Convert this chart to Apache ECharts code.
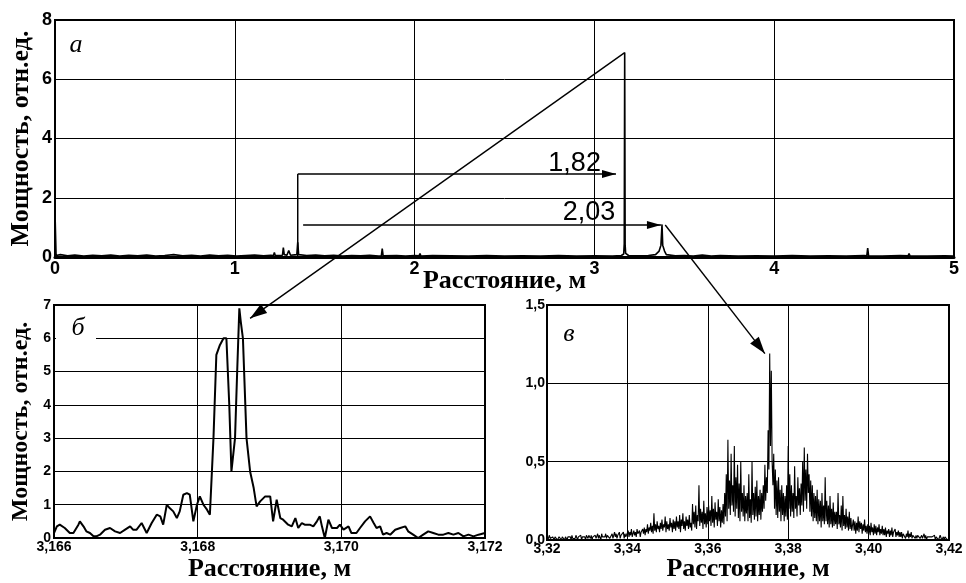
<!DOCTYPE html>
<html><head><meta charset="utf-8">
<script src="https://cdn.jsdelivr.net/npm/echarts@6/dist/echarts.min.js"></script>
<style>html,body{margin:0;padding:0;background:#fff}#c{width:966px;height:583px}</style>
</head><body><div id="c"></div>
<script>
// ---- Panel а: full trace, distance (m) / power
const aX=[0.000,0.006,0.03,0.07,0.11,0.16,0.21,0.26,0.31,0.36,0.41,0.46,0.51,0.56,0.61,0.66,0.71,0.76,0.81,0.86,0.91,0.96,1.01,1.06,1.11,1.16,1.20,1.215,1.22,1.225,1.265,1.27,1.275,1.29,1.30,1.31,1.345,1.35,1.355,1.40,1.45,1.50,1.55,1.60,1.65,1.70,1.75,1.80,1.815,1.82,1.825,1.90,1.95,2.00,2.025,2.03,2.035,2.10,2.20,2.30,2.40,2.50,2.60,2.70,2.80,2.90,3.00,3.10,3.15,3.163,3.166,3.1685,3.171,3.174,3.19,3.25,3.30,3.34,3.36,3.37,3.376,3.38,3.39,3.40,3.45,3.50,3.55,3.60,3.65,3.70,3.80,3.90,4.00,4.10,4.20,4.30,4.40,4.50,4.515,4.52,4.525,4.60,4.70,4.745,4.75,4.755,4.85,4.95,5.00];
const aY=[1.50,0.05,0.08,0.04,0.07,0.03,0.06,0.04,0.07,0.03,0.06,0.04,0.07,0.03,0.05,0.08,0.04,0.06,0.03,0.07,0.04,0.06,0.03,0.05,0.07,0.04,0.06,0.05,0.15,0.05,0.06,0.32,0.08,0.06,0.22,0.06,0.08,0.50,0.08,0.05,0.07,0.04,0.06,0.03,0.05,0.04,0.06,0.03,0.04,0.28,0.04,0.05,0.03,0.05,0.04,0.12,0.03,0.05,0.04,0.03,0.05,0.03,0.04,0.03,0.05,0.03,0.04,0.03,0.05,0.10,0.45,6.90,0.40,0.12,0.05,0.04,0.05,0.08,0.20,0.40,1.10,0.40,0.20,0.08,0.04,0.05,0.03,0.07,0.03,0.05,0.03,0.04,0.03,0.05,0.03,0.04,0.03,0.05,0.04,0.30,0.04,0.03,0.05,0.04,0.12,0.04,0.03,0.04,0.03];

// ---- Panel б: zoom on 3.166–3.172 m
const bX=[3.16600,3.16604,3.16608,3.16615,3.16622,3.16627,3.16634,3.16636,3.16641,3.16645,3.16650,3.16655,3.16659,3.16664,3.16671,3.16678,3.16685,3.16692,3.16699,3.16706,3.16710,3.16715,3.16722,3.16729,3.16736,3.16743,3.16748,3.16752,3.16757,3.16761,3.16766,3.16771,3.16775,3.16780,3.16785,3.16789,3.16794,3.16799,3.16803,3.16808,3.16813,3.16817,3.16822,3.16826,3.16831,3.16836,3.16840,3.16844,3.16847,3.16852,3.16855,3.16858,3.16860,3.16863,3.16868,3.16873,3.16878,3.16882,3.16887,3.16894,3.16901,3.16905,3.16910,3.16915,3.16919,3.16926,3.16931,3.16936,3.16940,3.16945,3.16949,3.16956,3.16961,3.16966,3.16970,3.16973,3.16977,3.16982,3.16987,3.16994,3.16998,3.17003,3.17010,3.17014,3.17021,3.17026,3.17033,3.17040,3.17045,3.17049,3.17054,3.17058,3.17063,3.17068,3.17075,3.17082,3.17089,3.17093,3.17100,3.17107,3.17114,3.17121,3.17128,3.17135,3.17142,3.17149,3.17156,3.17163,3.17170,3.17177,3.17184,3.17191,3.17200];
const bY=[0.15,0.35,0.40,0.30,0.15,0.15,0.40,0.50,0.35,0.20,0.15,0.05,0.05,0.10,0.25,0.30,0.20,0.15,0.25,0.35,0.25,0.25,0.45,0.15,0.45,0.70,0.65,0.40,1.00,0.90,0.80,0.60,0.80,1.30,1.35,1.30,0.50,1.00,1.25,1.00,0.85,0.70,3.00,5.50,5.80,6.00,6.00,4.00,2.00,3.00,5.00,6.90,6.50,6.00,3.00,2.00,1.50,0.95,1.10,1.25,1.25,0.50,1.15,0.60,0.55,0.40,0.35,0.60,0.30,0.45,0.40,0.40,0.35,0.50,0.65,0.35,0.00,0.55,0.30,0.30,0.40,0.25,0.35,0.15,0.15,0.30,0.50,0.65,0.45,0.30,0.35,0.10,0.15,0.10,0.25,0.30,0.35,0.20,0.10,0.00,0.10,0.20,0.15,0.10,0.10,0.15,0.10,0.15,0.05,0.10,0.05,0.10,0.15];

// ---- Panel в: zoom on 3.32–3.42 m, sampled every cStep
const cStart=3.32, cStep=0.0002;
const cY=[
0.02,0.00,0.01,0.03,0.01,0.02,0.00,0.02,0.01,0.00,0.02,0.01,0.03,0.00,0.01,0.02,0.03,0.01,0.00,0.02,
0.01,0.03,0.00,0.02,0.01,0.00,0.02,0.03,0.01,0.02,0.00,0.03,0.01,0.02,0.00,0.01,0.03,0.02,0.00,0.02,
0.02,0.01,0.03,0.00,0.02,0.03,0.01,0.02,0.00,0.03,0.02,0.01,0.03,0.02,0.01,0.03,0.00,0.02,0.01,0.03,
0.03,0.01,0.02,0.04,0.01,0.03,0.02,0.00,0.04,0.02,0.03,0.01,0.02,0.04,0.01,0.03,0.02,0.04,0.01,0.02,
0.02,0.04,0.01,0.03,0.05,0.02,0.04,0.01,0.03,0.02,0.05,0.01,0.03,0.04,0.02,0.05,0.01,0.04,0.02,0.03,
0.03,0.06,0.02,0.05,0.03,0.07,0.02,0.04,0.06,0.03,0.05,0.02,0.07,0.04,0.03,0.06,0.02,0.05,0.04,0.07,
0.04,0.08,0.03,0.07,0.05,0.10,0.04,0.08,0.06,0.11,0.05,0.09,0.04,0.17,0.06,0.10,0.05,0.12,0.07,0.09,
0.05,0.11,0.07,0.13,0.06,0.10,0.08,0.15,0.05,0.12,0.07,0.10,0.06,0.14,0.08,0.11,0.05,0.13,0.07,0.12,
0.06,0.15,0.08,0.12,0.07,0.16,0.05,0.13,0.09,0.17,0.07,0.12,0.06,0.15,0.09,0.13,0.07,0.16,0.08,0.11,
0.06,0.23,0.10,0.18,0.08,0.22,0.07,0.16,0.12,0.35,0.09,0.20,0.11,0.18,0.07,0.25,0.10,0.17,0.08,0.21,
0.10,0.22,0.12,0.19,0.09,0.28,0.11,0.20,0.08,0.24,0.13,0.18,0.09,0.26,0.12,0.21,0.08,0.19,0.11,0.23,
0.10,0.30,0.15,0.42,0.12,0.64,0.20,0.38,0.16,0.55,0.22,0.35,0.18,0.60,0.15,0.40,0.20,0.48,0.14,0.36,
0.12,0.50,0.18,0.30,0.15,0.35,0.12,0.28,0.17,0.30,0.12,0.42,0.14,0.26,0.11,0.50,0.16,0.30,0.13,0.34,
0.15,0.38,0.12,0.28,0.16,0.32,0.13,0.30,0.18,0.35,0.20,0.48,0.25,0.40,0.30,0.70,0.45,1.19,0.60,1.08,
0.50,0.35,0.55,0.20,0.45,0.16,0.38,0.14,0.40,0.18,0.32,0.12,0.35,0.16,0.30,0.12,0.28,0.15,0.35,0.13,
0.60,0.20,0.42,0.15,0.35,0.18,0.30,0.14,0.47,0.20,0.28,0.15,0.40,0.22,0.33,0.16,0.36,0.22,0.50,0.18,
0.59,0.25,0.45,0.20,0.55,0.30,0.42,0.18,0.38,0.15,0.35,0.12,0.30,0.14,0.28,0.12,0.32,0.10,0.26,0.12,
0.25,0.08,0.30,0.12,0.22,0.10,0.40,0.12,0.25,0.10,0.22,0.08,0.28,0.10,0.20,0.08,0.24,0.09,0.18,0.10,
0.18,0.07,0.30,0.10,0.16,0.08,0.22,0.06,0.28,0.09,0.16,0.07,0.20,0.08,0.15,0.06,0.18,0.07,0.14,0.06,
0.05,0.13,0.06,0.12,0.04,0.11,0.06,0.15,0.05,0.12,0.07,0.11,0.04,0.10,0.06,0.13,0.05,0.09,0.04,0.10,
0.04,0.09,0.03,0.11,0.05,0.08,0.03,0.10,0.04,0.09,0.03,0.08,0.05,0.10,0.03,0.07,0.04,0.09,0.03,0.07,
0.03,0.08,0.02,0.06,0.04,0.07,0.02,0.06,0.03,0.08,0.02,0.05,0.04,0.07,0.02,0.05,0.03,0.06,0.02,0.05,
0.02,0.05,0.01,0.04,0.03,0.05,0.01,0.04,0.02,0.06,0.01,0.04,0.02,0.05,0.01,0.03,0.02,0.04,0.01,0.03,
0.01,0.03,0.02,0.04,0.01,0.02,0.03,0.01,0.02,0.04,0.01,0.03,0.00,0.02,0.03,0.01,0.02,0.03,0.01,0.02,
0.02,0.01,0.03,0.00,0.02,0.01,0.02,0.00,0.01,0.03,0.02,0.00,0.01,0.02,0.00,0.02,0.01,0.03,0.00,0.01,0.01];

// annotation values (distances, m)
const dist1='1,82', dist2='2,03';
const yName='Мощность, отн.ед.', xName='Расстояние, м';

const comma=(d)=>v=>Number(v).toFixed(d).replace('.',',');
const serif='Liberation Serif', sans='Liberation Sans';
const grid=(l,t,w,h)=>({left:l,top:t,width:w,height:h,show:true,borderColor:'#000',borderWidth:2,backgroundColor:'#fff'});
const split={show:true,lineStyle:{color:'#000',width:1}};

function xAx(gi,min,max,iv,dec,fs,margin,gap,lw){
  return {type:'value',gridIndex:gi,min,max,interval:iv,splitLine:split,axisLine:{show:true,lineStyle:{color:'#000',width:lw}},axisTick:{show:false},
    axisLabel:{formatter:comma(dec),color:'#000',fontWeight:'bold',fontFamily:sans,fontSize:fs,margin,showMinLabel:true,showMaxLabel:true},
    name:xName,nameLocation:'middle',nameGap:gap,nameMoveOverlap:false,nameTextStyle:{fontFamily:serif,fontWeight:'bold',fontSize:26,color:'#000'}};
}
function yAx(gi,min,max,iv,dec,fs,margin,gap,nfs,nm){
  return {type:'value',gridIndex:gi,min,max,interval:iv,splitLine:split,axisLine:{show:true,lineStyle:{color:'#000',width:2}},axisTick:{show:false},
    axisLabel:{formatter:comma(dec),color:'#000',fontWeight:'bold',fontFamily:sans,fontSize:fs,margin},
    name:nm,nameLocation:'middle',nameRotate:90,nameGap:gap,nameMoveOverlap:false,nameTextStyle:{fontFamily:serif,fontWeight:'bold',fontSize:nfs,color:'#000'}};
}

const chart=echarts.init(document.getElementById('c'),null,{renderer:'canvas'});
chart.setOption({
  animation:false,backgroundColor:'#fff',
  grid:[grid(54,20,900,237),grid(54,305,431,237),grid(547,305,402,241)],
  xAxis:[xAx(0,0,5,1,0,18,3,11,3),xAx(1,3.166,3.172,0.002,3,14,2,18,2),xAx(2,3.32,3.42,0.02,2,14,2,16,2)],
  yAxis:[yAx(0,0,8,2,0,18,3,21,26,yName),yAx(1,0,7,1,0,14,3,21,24,yName),yAx(2,0,1.5,0.5,1,14,2,25,19,'')],
  series:[
    {type:'line',xAxisIndex:0,yAxisIndex:0,symbol:'none',lineStyle:{color:'#000',width:1.6},data:aX.map((x,i)=>[x,aY[i]])},
    {type:'line',xAxisIndex:1,yAxisIndex:1,symbol:'none',lineStyle:{color:'#000',width:2},data:bX.map((x,i)=>[x,bY[i]])},
    {type:'line',xAxisIndex:2,yAxisIndex:2,symbol:'none',lineStyle:{color:'#000',width:1.1},data:cY.map((y,i)=>[cStart+i*cStep,y])}
  ]
});

const P=(gi,pt)=>chart.convertToPixel({gridIndex:gi},pt);
function line(a,b,w){return {type:'line',shape:{x1:a[0],y1:a[1],x2:b[0],y2:b[1]},style:{stroke:'#000',lineWidth:w||1.5},z:100};}
function head(from,tip,len,half){
  const dx=tip[0]-from[0],dy=tip[1]-from[1],L=Math.hypot(dx,dy),ux=dx/L,uy=dy/L;
  const bx=tip[0]-ux*len,by=tip[1]-uy*len;
  return {type:'polygon',shape:{points:[tip,[bx-uy*half,by+ux*half],[bx+uy*half,by-ux*half]]},style:{fill:'#000'},z:101};
}
function txt(p,s,font){return {type:'text',x:p[0],y:p[1],style:{text:s,font:font,fill:'#000',textAlign:'center',textVerticalAlign:'middle'},z:102};}

const g=[];
// bracket for distances
const v0=P(0,[1.35,0]), v1=P(0,[1.35,2.8]), h1=P(0,[3.12,2.8]);
g.push(line(v0,v1),line(v1,h1),head(v1,h1,14,4));
const h2a=P(0,[1.38,1.08]), h2b=P(0,[3.37,1.08]);
g.push(line(h2a,h2b),head(h2a,h2b,14,4));
g.push(txt(P(0,[2.89,3.14]),dist1,'27px Liberation Sans'));
g.push(txt(P(0,[2.97,1.5]),dist2,'27px Liberation Sans'));
// leader to panel б
const pk=P(0,[3.1685,6.9]), tipB=P(1,[3.16873,6.6]);
g.push(line(pk,tipB,1.4),head(pk,tipB,17,5.5));
// leader to panel в
const st=P(0,[3.394,1.08]), tipC=P(2,[3.3742,1.19]);
g.push(line(st,tipC,1.4),head(st,tipC,17,5.5));
// panel letters
g.push(txt([76,45],'а','italic 26px Liberation Serif'));
g.push({type:'rect',shape:{x:56,y:315,width:40,height:30},style:{fill:'#fff'},z:90});
g.push(txt([78,328],'б','italic 26px Liberation Serif'));
g.push(txt([569,334],'в','italic 26px Liberation Serif'));
chart.setOption({graphic:g});
</script></body></html>
